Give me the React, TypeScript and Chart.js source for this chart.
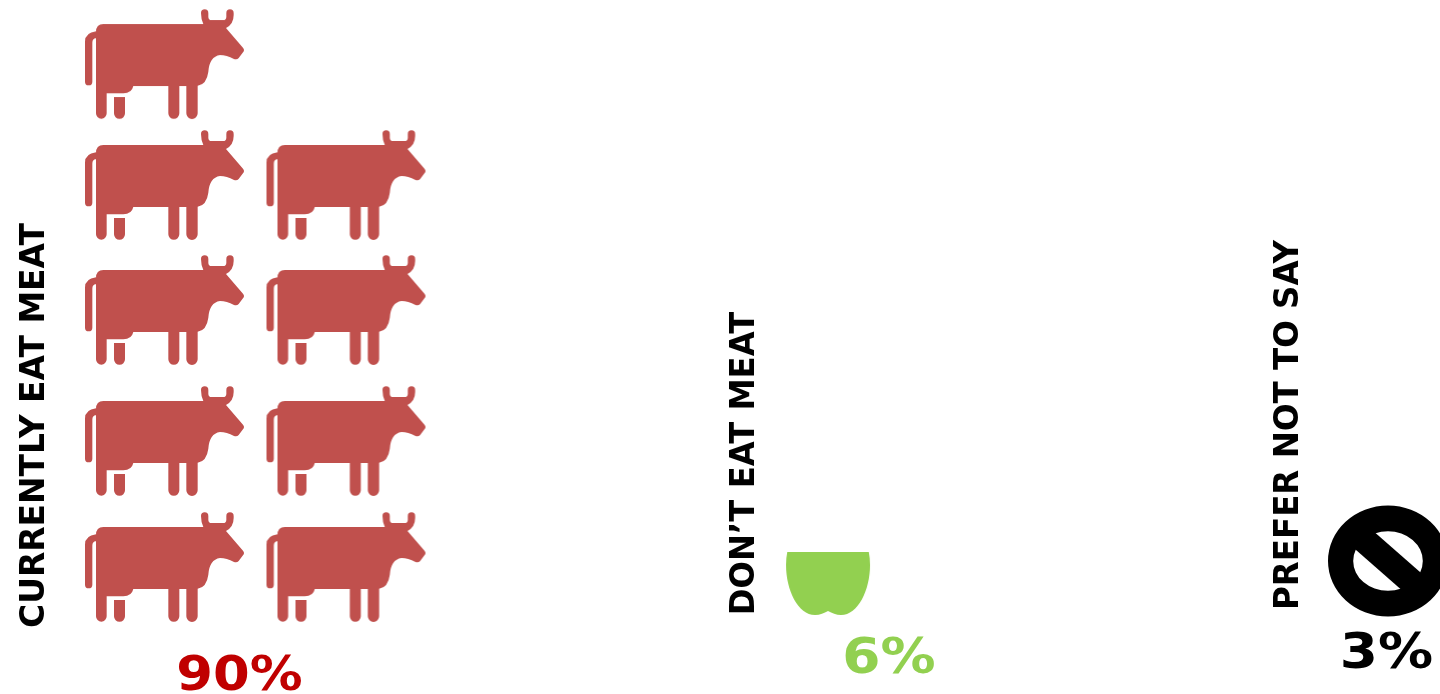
import React, { useEffect, useRef } from "react";
import { Chart, registerables } from "chart.js";

Chart.register(...registerables);

// Survey groups and their shares, in percent
const categories = ["CURRENTLY EAT MEAT", "DON’T EAT MEAT", "PREFER NOT TO SAY"];
const shares = [90, 6, 3];
const shareLabels = ["90%", "6%", "3%"];
const sharePerIcon = 10;

// Icon slots in chart units: a column step is one x unit, a row step about one y unit
const cowColumns = [0, 0, 1, 0, 1, 0, 1, 0, 1];
const cowRows = [3.992, 3.032, 3.032, 2.04, 2.04, 1, 1, 0, 0];
const appleSlot = { x: 3.653, y: 0.04 };
const noSymbolSlot = { x: 6.738, y: 0.048 };

const cowColor = "#C0504D";
const appleColor = "#92D050";
const captionColors = ["#C00000", "#92D050", "#000000"];

// Captions: [centre x, baseline y] of the share labels, [baseline x, centre y] of the group titles
const sharePlacement = [[239.5, 690], [889, 673], [1386.5, 668]];
const titlePlacement = [[43.5, 425.5], [754, 463.5], [1298, 425]];
const shareFontSizes = [48, 50, 50];
const titleFontSizes = [32.9, 32.3, 32.5];
const shareStretch = 1.1;
const titleStretch = 1.04;

const cowOutline =
  "M78 96 Q78 72 100 72 L400 72 Q393 58 393 39 A11 11 0 0 1 415 39 L415 50 Q415 60 425 60 L459 60 Q469 60 469 50 L469 39 A11 11 0 0 1 491 39 L491 45 Q491 72 468 84 " +
  "L519 143 Q525 150 519 157 L506 174 Q501 180 492 177 Q470 165 450 165 Q418 170 415 215 Q410 253 383 257 " +
  "L383 340 A17 17 0 0 1 349 340 L349 258 L328 258 L328 340 A16.5 16.5 0 0 1 295 340 L295 258 L190 258 Q185 280 160 280 L110 280 L110 340 A16 16 0 0 1 78 340 Z " +
  "M132 291 L165 291 L165 340 A16.5 16.5 0 0 1 132 340 Z " +
  "M78 94 L78 114 Q67 116 67 128 L67 245 A11 11 0 0 1 45 245 L45 125 Q45 98 78 94 Z";

function makeCanvas(width: number, height: number) {
  const canvas = document.createElement("canvas");
  canvas.width = width;
  canvas.height = height;
  return { canvas, ctx: canvas.getContext("2d") as CanvasRenderingContext2D };
}

function cowIcon() {
  const { canvas, ctx } = makeCanvas(162, 112);
  ctx.scale(1 / 3, 1 / 3);
  ctx.translate(-42, -24);
  ctx.fillStyle = cowColor;
  ctx.fill(new Path2D(cowOutline));
  return canvas;
}

// An apple filled from the bottom up, in proportion to the share it stands for
function appleIcon(fraction: number) {
  const { canvas, ctx } = makeCanvas(90, 112);
  const top = 4;
  const bottom = 109;
  ctx.beginPath();
  ctx.rect(0, bottom - fraction * (bottom - top), 90, fraction * (bottom - top));
  ctx.clip();
  ctx.beginPath();
  ctx.moveTo(45, 105);
  ctx.bezierCurveTo(41, 107, 37, 109, 32, 109);
  ctx.bezierCurveTo(15, 109, 3, 84, 3, 59);
  ctx.bezierCurveTo(3, 29, 22, 6, 45, 14);
  ctx.bezierCurveTo(68, 6, 87, 29, 87, 59);
  ctx.bezierCurveTo(87, 84, 75, 109, 58, 109);
  ctx.bezierCurveTo(53, 109, 49, 107, 45, 105);
  ctx.closePath();
  ctx.fillStyle = appleColor;
  ctx.fill();
  return canvas;
}

function noSymbolIcon() {
  const { canvas, ctx } = makeCanvas(124, 116);
  const cx = 62;
  const cy = 58;
  ctx.fillStyle = "#000000";
  ctx.beginPath();
  ctx.ellipse(cx, cy, 60, 55.5, 0, 0, Math.PI * 2);
  ctx.ellipse(cx, cy, 34.8, 29.8, 0, 0, Math.PI * 2);
  ctx.fill("evenodd");
  // Diagonal bar across the opening
  ctx.save();
  ctx.translate(cx, cy);
  ctx.rotate(Math.atan2(39.6, 45));
  ctx.fillRect(-45, -12.8, 90, 25.6);
  ctx.restore();
  return canvas;
}

const captionPlugin = {
  id: "captions",
  afterDatasetsDraw(chart: Chart) {
    const { ctx } = chart;
    ctx.save();
    ctx.textBaseline = "alphabetic";
    ctx.textAlign = "center";
    categories.forEach((title, i) => {
      const [tx, ty] = titlePlacement[i];
      ctx.save();
      ctx.translate(tx, ty);
      ctx.scale(titleStretch, 1);
      ctx.rotate(-Math.PI / 2);
      ctx.font = `bold ${titleFontSizes[i]}px "DejaVu Sans"`;
      ctx.fillStyle = "#000000";
      ctx.fillText(title, 0, 0);
      ctx.restore();

      const [sx, sy] = sharePlacement[i];
      ctx.save();
      ctx.translate(sx, sy);
      ctx.scale(shareStretch, 1);
      ctx.font = `bold ${shareFontSizes[i]}px "DejaVu Sans"`;
      ctx.fillStyle = captionColors[i];
      ctx.fillText(shareLabels[i], 0, 0);
      ctx.restore();
    });
    ctx.restore();
  },
};

export default function App() {
  const ref = useRef<HTMLCanvasElement>(null);

  useEffect(() => {
    if (!ref.current) return;
    const chart = new Chart(ref.current, {
      type: "scatter",
      data: {
        datasets: [
          {
            label: categories[0],
            data: cowColumns.map((x, i) => ({ x, y: cowRows[i] })),
            pointStyle: cowIcon(),
            pointRadius: 20,
          },
          {
            label: categories[1],
            data: [appleSlot],
            pointStyle: appleIcon(shares[1] / sharePerIcon),
            pointRadius: 20,
          },
          {
            label: categories[2],
            data: [noSymbolSlot],
            pointStyle: noSymbolIcon(),
            pointRadius: 20,
          },
        ],
      },
      options: {
        responsive: false,
        animation: false,
        layout: { padding: 0, autoPadding: false },
        plugins: { legend: { display: false }, tooltip: { enabled: false } },
        scales: {
          x: { type: "linear", display: false, min: -165 / 181.5, max: 1275 / 181.5 },
          y: { type: "linear", display: false, min: -127 / 126, max: 567 / 126 },
        },
      },
      plugins: [captionPlugin],
    });
    return () => chart.destroy();
  }, []);

  return (
    <div style={{ position: "fixed", left: 0, top: 0, width: 1440, height: 694, background: "#ffffff" }}>
      <canvas ref={ref} width={1440} height={694} style={{ display: "block" }} />
    </div>
  );
}
